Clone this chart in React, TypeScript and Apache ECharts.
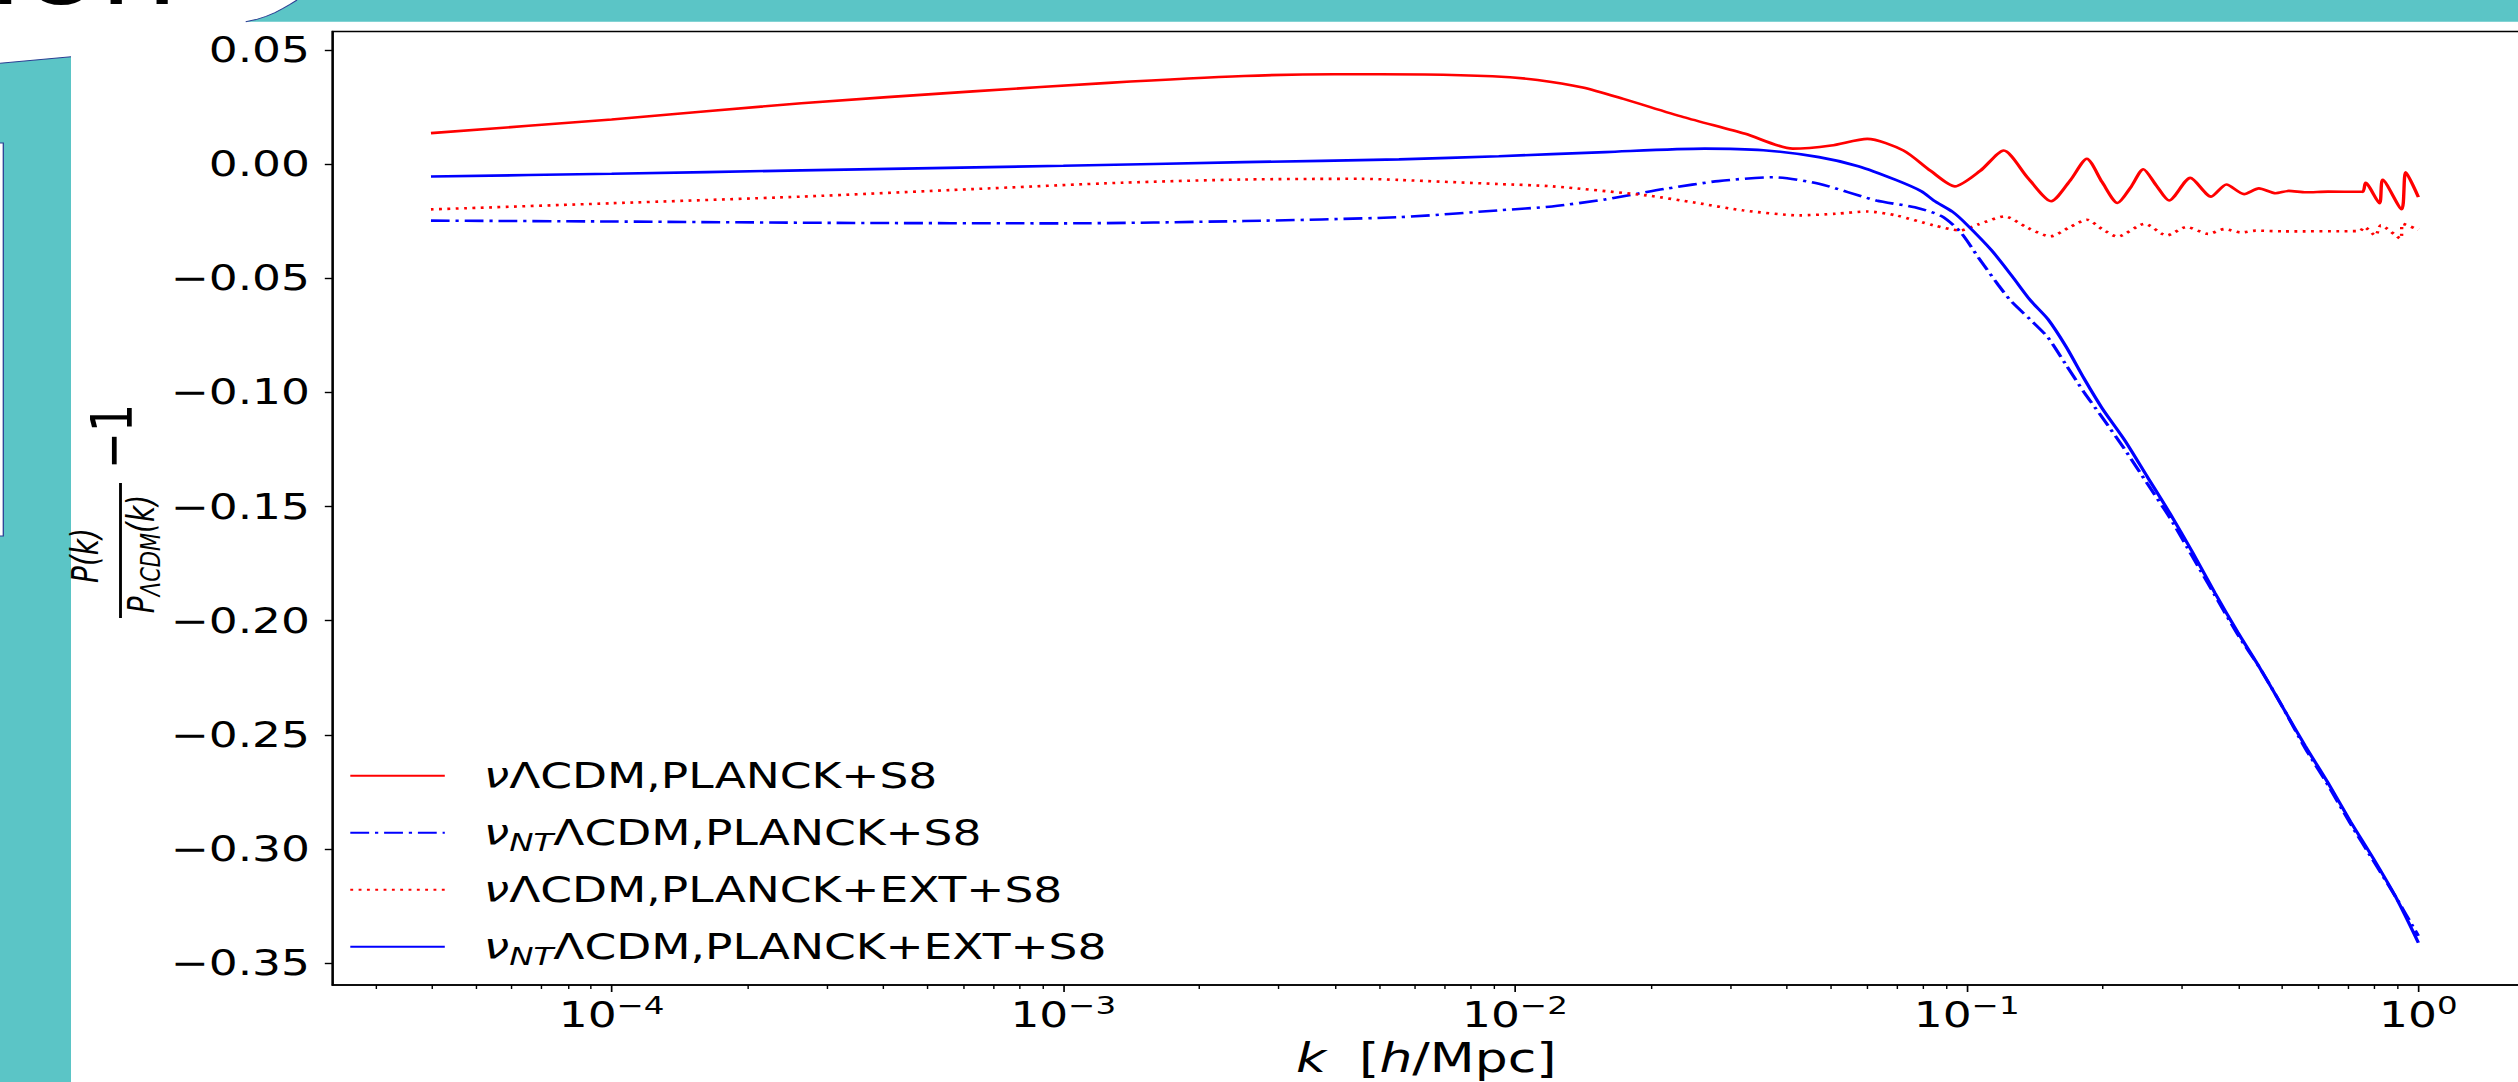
import React, { useEffect, useRef } from 'react';
import * as echarts from 'echarts';

// ---------------- data (x as log10 k, y as P/P_LCDM - 1) ----------------
const seriesNames = [
  'νΛCDM,PLANCK+S8',
  'νNTΛCDM,PLANCK+S8',
  'νΛCDM,PLANCK+EXT+S8',
  'νNTΛCDM,PLANCK+EXT+S8',
];

const redSolidLogK = [-4.40, -4.0, -3.58, -3.2, -2.9, -2.6, -2.4, -2.2, -2.05, -1.95, -1.85, -1.76, -1.627, -1.49, -1.385, -1.30, -1.22, -1.14, -1.08, -1.026, -0.97, -0.918, -0.865, -0.813, -0.77, -0.734, -0.70, -0.666, -0.636, -0.609, -0.58, -0.552, -0.505, -0.459, -0.425, -0.386, -0.353, -0.316, -0.287, -0.249, -0.20, -0.124, -0.117, -0.086, -0.079, -0.037, -0.028, 0.0];
const redSolidVal = [0.0135, 0.0195, 0.0266, 0.0318, 0.0355, 0.0385, 0.0393, 0.0392, 0.0384, 0.0368, 0.0335, 0.0285, 0.0205, 0.0132, 0.0067, 0.0081, 0.0110, 0.0059, -0.0030, -0.0098, -0.0030, 0.0059, -0.0060, -0.0163, -0.0070, 0.0023, -0.0080, -0.0171, -0.0100, -0.0023, -0.0095, -0.0160, -0.0061, -0.0143, -0.0090, -0.0132, -0.0107, -0.0128, -0.0118, -0.0124, -0.0121, -0.0122, -0.0083, -0.0172, -0.0069, -0.0198, -0.0037, -0.0145];

const blueDashDotLogK = [-4.40, -4.0, -3.5, -3.0, -2.6, -2.257, -2.036, -1.918, -1.80, -1.665, -1.55, -1.428, -1.327, -1.20, -1.115, -1.056, -1.013, -0.974, -0.93, -0.902, -0.86, -0.82, -0.78, -0.74, -0.70, -0.65, -0.60, -0.55, -0.50, -0.45, -0.40, -0.35, -0.30, -0.25, -0.20, -0.15, -0.10, -0.05, 0.0];
const blueDashDotVal = [-0.0248, -0.0252, -0.0258, -0.0260, -0.0250, -0.0233, -0.0203, -0.0186, -0.0155, -0.0108, -0.0075, -0.0058, -0.0087, -0.0160, -0.0190, -0.0228, -0.0300, -0.0410, -0.0530, -0.0600, -0.0680, -0.0760, -0.0880, -0.1000, -0.1110, -0.1250, -0.1400, -0.1550, -0.1720, -0.1890, -0.2060, -0.2210, -0.2380, -0.2560, -0.2720, -0.2890, -0.3050, -0.3210, -0.3380];

const redDottedLogK = [-4.40, -4.0, -3.58, -3.2, -2.87, -2.6, -2.34, -2.257, -2.036, -1.918, -1.707, -1.60, -1.496, -1.37, -1.29, -1.22, -1.157, -1.073, -1.015, -0.975, -0.916, -0.865, -0.815, -0.77, -0.734, -0.70, -0.666, -0.606, -0.557, -0.513, -0.465, -0.429, -0.393, -0.36, -0.30, -0.13, -0.12, -0.095, -0.083, -0.039, -0.035, 0.0];
const redDottedVal = [-0.0199, -0.0172, -0.0143, -0.0110, -0.0082, -0.0068, -0.0065, -0.0070, -0.0088, -0.0098, -0.0138, -0.0170, -0.0203, -0.0225, -0.0218, -0.0208, -0.0225, -0.0269, -0.0291, -0.0265, -0.0230, -0.0280, -0.0317, -0.0275, -0.0244, -0.0285, -0.0318, -0.0262, -0.0313, -0.0276, -0.0306, -0.0285, -0.0300, -0.0292, -0.0295, -0.0294, -0.0276, -0.0313, -0.0269, -0.0327, -0.0262, -0.0288];

const blueSolidLogK = [-4.40, -4.0, -3.58, -3.0, -2.6, -2.257, -2.036, -1.8, -1.58, -1.45, -1.327, -1.24, -1.157, -1.10, -1.073, -1.031, -1.0, -0.945, -0.90, -0.859, -0.82, -0.78, -0.74, -0.70, -0.65, -0.60, -0.55, -0.50, -0.45, -0.40, -0.35, -0.30, -0.25, -0.20, -0.15, -0.10, -0.05, 0.0];
const blueSolidVal = [-0.0055, -0.0043, -0.0028, -0.0008, 0.0008, 0.0020, 0.0034, 0.0052, 0.0067, 0.0060, 0.0030, -0.0010, -0.0070, -0.0120, -0.0160, -0.0210, -0.0265, -0.0378, -0.0490, -0.0597, -0.0680, -0.0800, -0.0940, -0.1070, -0.1210, -0.1370, -0.1530, -0.1700, -0.1880, -0.2050, -0.2210, -0.2380, -0.2550, -0.2710, -0.2880, -0.3040, -0.3210, -0.3410];

const xMajorTicks = [1e-4, 1e-3, 1e-2, 1e-1, 1];
const xMinorTicks: number[] = [];
for (let n = -5; n <= 0; n++) {
  for (let m = 2; m <= 9; m++) xMinorTicks.push(m * Math.pow(10, n));
}
const yTicks = [-0.35, -0.3, -0.25, -0.2, -0.15, -0.1, -0.05, 0, 0.05];

// ---------------- layout helpers ----------------
const S = 1.3; // horizontal stretch of the slide picture
const px = (x: number) => x / S;
const W = 2560 / S;
const FONT = '"DejaVu Sans", "Liberation Sans", sans-serif';
const TEAL = '#5bc5c6';
const EDGE = '#2b3f93';

const toData = (lk: number[], v: number[]) => lk.map((e, i) => [Math.pow(10, e), v[i]]);

const legendRich = {
  it: { fontStyle: 'italic', fontSize: 35, lineHeight: 44, fontFamily: FONT, color: '#000' },
  sub: { fontStyle: 'italic', fontSize: 25, lineHeight: 16, verticalAlign: 'bottom', fontFamily: FONT, color: '#000' },
  n: { fontSize: 35, lineHeight: 44, fontFamily: FONT, color: '#000' },
};

function legendFormatter(name: string) {
  if (name.startsWith('νNT')) return '{it|ν}{sub|NT}{n|' + name.slice(3) + '}';
  return '{it|ν}{n|' + name.slice(1) + '}';
}

function buildOption() {
  const topCurve = [
    [245.7, 21.7], [256, 19.6], [266, 16.4], [275, 12.6], [283, 8.4], [290, 4.4], [297, 0],
  ];
  const topPoly = [...topCurve, [2600, 0], [2600, 21.7]].map(([x, y]) => [px(x), y]);
  const leftPoly = [[0, 63.3], [71, 56.7], [71, 1100], [0, 1100]].map(([x, y]) => [px(x), y]);

  const graphic: any[] = [
    { type: 'polygon', shape: { points: topPoly }, style: { fill: TEAL }, silent: true },
    { type: 'polyline', shape: { points: topCurve.map(([x, y]) => [px(x), y]) }, style: { stroke: EDGE, lineWidth: 1, fill: 'none' }, silent: true },
    { type: 'polygon', shape: { points: leftPoly }, style: { fill: TEAL }, silent: true },
    { type: 'line', shape: { x1: 0, y1: 63.3, x2: px(71), y2: 56.7 }, style: { stroke: EDGE, lineWidth: 1 }, silent: true },
    { type: 'rect', shape: { x: -6, y: 143, width: px(3.3) + 6, height: 393 }, style: { fill: '#fff', stroke: EDGE, lineWidth: 1 }, silent: true },
    {
      type: 'text', x: -9, y: -29, silent: true,
      style: { text: 'ion', fontSize: 96, fontFamily: FONT, fill: '#000', align: 'left', textAlign: 'left', verticalAlign: 'middle', textVerticalAlign: 'middle' },
    },
    // y-axis label: P(k)/P_ΛCDM(k) − 1 (rotated)
    {
      type: 'text', x: px(112.5), y: 436.5, rotation: Math.PI / 2, silent: true,
      style: { text: '−1', fontSize: 44, fontFamily: FONT, fill: '#000', align: 'center', textAlign: 'center', verticalAlign: 'middle', textVerticalAlign: 'middle' },
    },
    {
      type: 'text', x: px(86), y: 555.5, rotation: Math.PI / 2, silent: true,
      style: { text: 'P(k)', fontSize: 28, fontStyle: 'italic', fontFamily: FONT, fill: '#000', align: 'center', textAlign: 'center', verticalAlign: 'middle', textVerticalAlign: 'middle' },
    },
    { type: 'line', shape: { x1: px(120.5), y1: 483, x2: px(120.5), y2: 618 }, style: { stroke: '#000', lineWidth: 2.2 }, silent: true },
    {
      type: 'text', x: px(142), y: 554, rotation: Math.PI / 2, silent: true,
      style: {
        text: '{i|P}{s|ΛCDM}{i|(k)}', fill: '#000', align: 'center', textAlign: 'center', verticalAlign: 'middle', textVerticalAlign: 'middle',
        rich: {
          i: { fontSize: 28, fontStyle: 'italic', fontFamily: FONT, lineHeight: 34, fill: '#000' },
          s: { fontSize: 21, fontStyle: 'italic', fontFamily: FONT, lineHeight: 14, verticalAlign: 'bottom', fill: '#000' },
        },
      },
    },
  ];

  const lineW = 2.6;
  return {
    animation: false,
    backgroundColor: 'transparent',
    graphic,
    grid: {
      left: px(332.5), top: 31.5, width: px(2520 - 332.5), height: 985 - 31.5,
      show: true, borderColor: '#000', borderWidth: 1.6, backgroundColor: 'transparent',
      containLabel: false, outerBoundsMode: 'none',
    },
    legend: {
      orient: 'vertical', left: px(349), top: 753.7, padding: 0, itemGap: 13,
      itemWidth: px(443.5 - 349), itemHeight: 2,
      itemStyle: { opacity: 0, borderWidth: 0 },
      data: [seriesNames[0], seriesNames[1], seriesNames[2], seriesNames[3]],
      formatter: legendFormatter,
      textStyle: { fontSize: 35, lineHeight: 44, fontFamily: FONT, color: '#000', padding: [0, 0, 0, 25], rich: legendRich },
      selectedMode: false,
    },
    xAxis: [
      {
        type: 'log', logBase: 10, min: Math.pow(10, -4.618), max: Math.pow(10, 0.225), position: 'bottom',
        name: '{i|k}  [{i|h}/Mpc]', nameLocation: 'middle', nameGap: 53,
        nameTextStyle: {
          fontSize: 40, lineHeight: 40, fontFamily: FONT, color: '#000',
          rich: { i: { fontStyle: 'italic', fontSize: 40, lineHeight: 40, fontFamily: FONT, color: '#000' } },
        },
        axisLine: { show: true, onZero: false, lineStyle: { color: '#000', width: 1.6 } },
        axisTick: { show: true, customValues: xMajorTicks, length: 7, lineStyle: { color: '#000', width: 1.3 } },
        minorTick: { show: false },
        splitLine: { show: false },
        axisLabel: {
          customValues: xMajorTicks, margin: 7.6, color: '#000',
          formatter: (v: number) => '{b|10}{sup|' + (Math.round(Math.log10(v)) < 0 ? '−' + Math.abs(Math.round(Math.log10(v))) : String(Math.round(Math.log10(v)))) + '}',
          rich: {
            b: { fontSize: 35, lineHeight: 44, fontFamily: FONT, color: '#000' },
            sup: { fontSize: 25, lineHeight: 25, verticalAlign: 'top', fontFamily: FONT, color: '#000' },
          },
        },
      },
      {
        type: 'log', logBase: 10, min: Math.pow(10, -4.618), max: Math.pow(10, 0.225), position: 'bottom',
        axisLine: { show: false, onZero: false },
        axisTick: { show: true, customValues: xMinorTicks, length: 4, lineStyle: { color: '#000', width: 1.1 } },
        axisLabel: { show: false },
        splitLine: { show: false },
      },
    ],
    yAxis: {
      type: 'value', min: -0.3595, max: 0.058,
      axisLine: { show: true, onZero: false, lineStyle: { color: '#000', width: 1.6 } },
      axisTick: { show: true, customValues: yTicks, length: px(7.7), lineStyle: { color: '#000', width: 1.4 } },
      splitLine: { show: false },
      axisLabel: {
        customValues: yTicks, margin: px(22.5), fontSize: 35, fontFamily: FONT, color: '#000',
        formatter: (v: number) => (v < 0 ? '−' + Math.abs(v).toFixed(2) : v.toFixed(2)),
      },
    },
    series: [
      {
        name: seriesNames[0], type: 'line', xAxisIndex: 0, data: toData(redSolidLogK, redSolidVal),
        symbol: 'none', smooth: 0.25, color: '#ff0000',
        lineStyle: { color: '#ff0000', width: lineW, type: 'solid' }, z: 3,
      },
      {
        name: seriesNames[1], type: 'line', xAxisIndex: 0, data: toData(blueDashDotLogK, blueDashDotVal),
        symbol: 'none', smooth: 0.25, color: '#0000ff',
        lineStyle: { color: '#0000ff', width: lineW, type: [14.5, 4.5, 2.5, 4.5] }, z: 3,
      },
      {
        name: seriesNames[2], type: 'line', xAxisIndex: 0, data: toData(redDottedLogK, redDottedVal),
        symbol: 'none', smooth: 0.25, color: '#ff0000',
        lineStyle: { color: '#ff0000', width: lineW, type: [2.2, 4.2] }, z: 3,
      },
      {
        name: seriesNames[3], type: 'line', xAxisIndex: 0, data: toData(blueSolidLogK, blueSolidVal),
        symbol: 'none', smooth: 0.25, color: '#0000ff',
        lineStyle: { color: '#0000ff', width: lineW, type: 'solid' }, z: 3,
      },
    ],
  };
}

export default function App() {
  const ref = useRef<HTMLDivElement>(null);
  useEffect(() => {
    document.body.style.margin = '0';
    const chart = echarts.init(ref.current!, null, { renderer: 'svg' });
    chart.setOption(buildOption() as any);
    return () => chart.dispose();
  }, []);
  return (
    <div style={{ position: 'fixed', left: 0, top: 0, width: 2518, height: 1082, overflow: 'hidden', background: '#fff' }}>
      <div ref={ref} style={{ width: W, height: 1082, transform: `scaleX(${S})`, transformOrigin: '0 0' }} />
    </div>
  );
}
